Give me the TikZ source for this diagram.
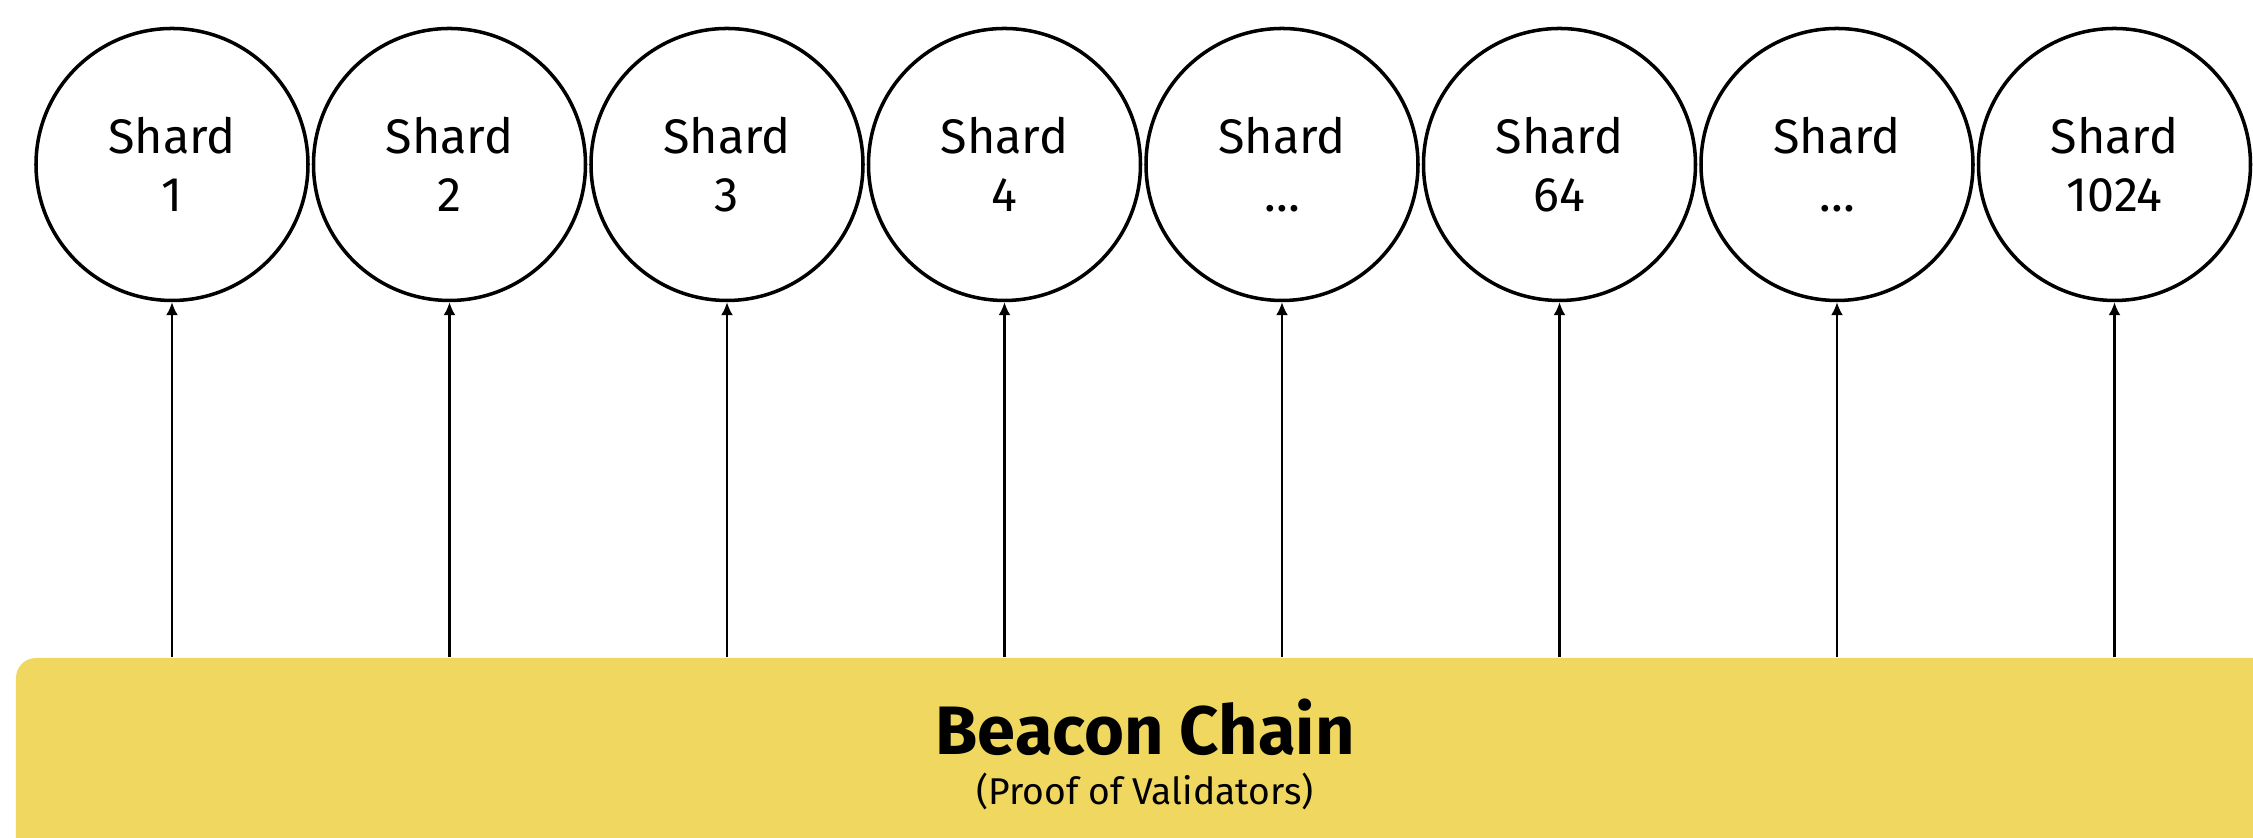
\documentclass[tikz,border=0pt]{standalone}
\usepackage{fontspec}
\setmainfont{Fira Sans}
\usetikzlibrary{arrows.meta}

\definecolor{beaconyellow}{RGB}{239,215,96}

\begin{document}
\begin{tikzpicture}[
	shard/.style = {circle, draw, line width=1pt, minimum size=2.72cm, inner sep=0pt,
		align=center, font=\fontsize{13.8}{17.8}\selectfont},
	chainbox/.style = {rectangle, rounded corners=0.2cm, fill=beaconyellow,
		minimum width=23.04cm, minimum height=2.4cm, inner sep=0pt},
	link/.style = {line width=0.6pt, -{Latex[length=1.3mm,width=1.2mm]}}
]
\clip (0,0) rectangle (22.53,8.38);

% the beacon chain underneath
\node[chainbox] (beacon) at (11.68,0.6) {};
\node[anchor=base, font=\fontsize{19.5}{22}\selectfont\bfseries] (title) at (11.45,0.83) {Beacon Chain};
\node[anchor=base, font=\fontsize{10.6}{13}\selectfont] (subtitle) at (11.45,0.33) {(Proof of Validators)};

% shards, each fed from the beacon chain
\foreach \lab [count=\i] in {1,2,3,4,{…},64,{…},1024} {
	\node[shard] (shard\i) at ({1.72+(\i-1)*2.775},6.735) {\raisebox{-0.5mm}{Shard}\\\lab};
	\draw[link] (shard\i |- beacon.north) -- (shard\i);
}
\end{tikzpicture}
\end{document}
